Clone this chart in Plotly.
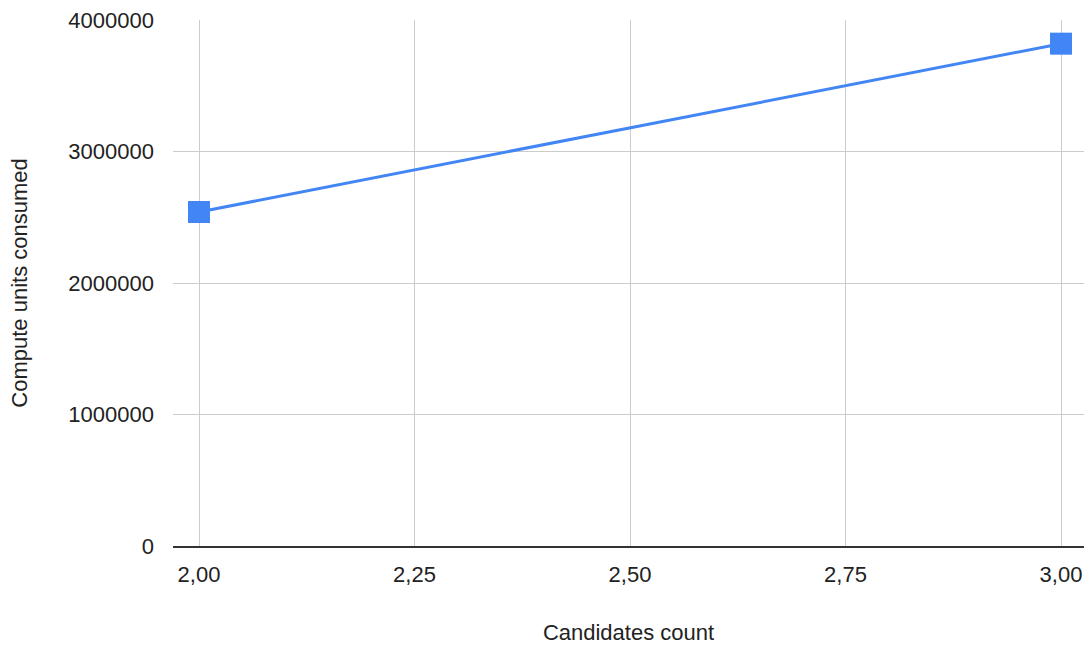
import plotly.graph_objects as go

# Measurements: compute units consumed per candidate count
candidates = [2, 3]
compute_units = [2540000, 3820000]

x_ticks = [2.0, 2.25, 2.5, 2.75, 3.0]
y_ticks = [0, 1000000, 2000000, 3000000, 4000000]

BLUE = "#4285F4"
FONT = "Liberation Sans, Arial, sans-serif"

fig = go.Figure(
    go.Scatter(
        x=candidates,
        y=compute_units,
        mode="lines+markers",
        line=dict(color=BLUE, width=3),
        marker=dict(symbol="square", size=22, color=BLUE),
        cliponaxis=False,
        showlegend=False,
    )
)

fig.update_layout(
    width=1084,
    height=645,
    margin=dict(l=173, r=0, t=20, b=99),
    paper_bgcolor="white",
    plot_bgcolor="white",
    separators=",.",
    font=dict(family=FONT, size=22, color="#222"),
)

fig.update_xaxes(
    range=[1.96984, 3.02668],
    tickvals=x_ticks,
    tickformat=".2f",
    showgrid=True,
    gridcolor="#cccccc",
    gridwidth=1.2,
    zeroline=False,
    showline=True,
    linecolor="#333333",
    linewidth=2,
    ticks="",
    ticklabelstandoff=8,
    title=dict(text="Candidates count", standoff=38, font=dict(size=22)),
    automargin=False,
)

fig.update_yaxes(
    range=[0, 4000000],
    tickvals=y_ticks,
    tickformat="d",
    showgrid=True,
    gridcolor="#cccccc",
    gridwidth=1.2,
    zeroline=False,
    showline=False,
    ticks="",
    ticklabelstandoff=18,
    title=dict(text="Compute units consumed", standoff=34, font=dict(size=22)),
    automargin=False,
)

fig.write_html("out.html")
